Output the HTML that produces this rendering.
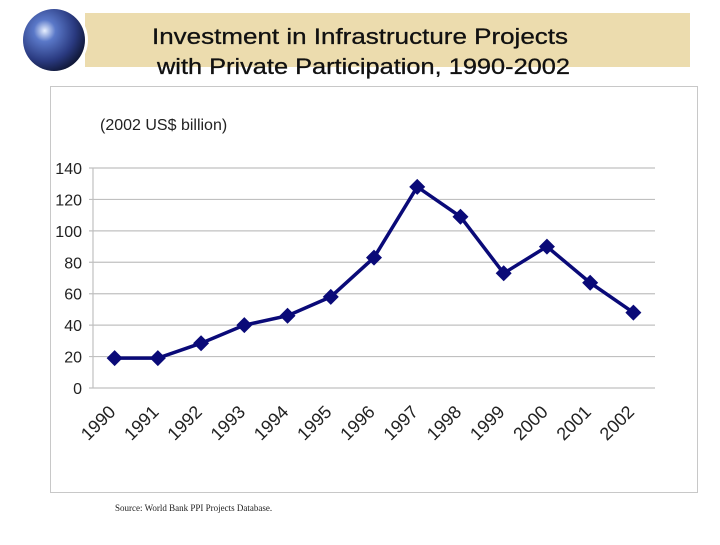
<!DOCTYPE html>
<html><head><meta charset="utf-8"><style>
body{margin:0;width:720px;height:540px;background:#fff;overflow:hidden;font-family:"Liberation Sans",sans-serif;}
</style></head><body>
<svg width="720" height="540" xmlns="http://www.w3.org/2000/svg">
<defs>
<radialGradient id="g" cx="0.35" cy="0.35" r="0.7">
<stop offset="0" stop-color="#e8f0ff"/><stop offset="0.25" stop-color="#5a78c8"/><stop offset="0.7" stop-color="#2a3a80"/><stop offset="1" stop-color="#101838"/>
</radialGradient>
</defs>
<rect x="85" y="13" width="605" height="54" fill="#ecdcae"/>
<circle cx="54" cy="40" r="34" fill="#fff"/>
<circle cx="54" cy="40" r="31" fill="url(#g)"/>
<text x="152" y="44" textLength="416" lengthAdjust="spacingAndGlyphs" font-size="22" fill="#111" stroke="#111" stroke-width="0.3">Investment in Infrastructure Projects</text>
<text x="157" y="74" textLength="413" lengthAdjust="spacingAndGlyphs" font-size="22" fill="#111" stroke="#111" stroke-width="0.3">with Private Participation, 1990-2002</text>
<rect x="50.5" y="86.5" width="647" height="406" fill="#fff" stroke="#c8c8c8"/>
<text x="100" y="130" font-size="16" fill="#222">(2002 US$ billion)</text>
<g id="chart"></g>
<text x="115" y="511" font-family="Liberation Serif,serif" font-size="9" fill="#222">Source: World Bank PPI Projects Database.</text>
</svg>
<script>
const years=["1990","1991","1992","1993","1994","1995","1996","1997","1998","1999","2000","2001","2002"];
const values=[19,19,28.5,40,46,58,83,128,109,73,90,67,48];
const yTicks=[0,20,40,60,80,100,120,140];
const NS="http://www.w3.org/2000/svg";
const g=document.getElementById('chart');
const x0=93,x1=655,y0=388,y1=168,yMax=140;
const xs=i=>x0+(x1-x0)/years.length*(i+0.5);
const ys=v=>y0-(y0-y1)*v/yMax;
function mk(t,a){const e=document.createElementNS(NS,t);for(const k in a)e.setAttribute(k,a[k]);g.appendChild(e);return e;}
yTicks.forEach(v=>{
 const l=mk('line',{x1:x0-4,x2:x1,y1:ys(v),y2:ys(v),stroke:'#c0c0c0','stroke-width':1.2});
 
 
 const t=mk('text',{x:x0-11,y:ys(v)+6,'text-anchor':'end','font-size':16,fill:'#222'});
 t.textContent=v;
 
 
});
const ax=mk('line',{x1:x0,x2:x0,y1:y1,y2:y0,stroke:'#c0c0c0','stroke-width':1.2});


years.forEach((y,i)=>{
 const tx=xs(i)+2,ty=413;
 const t=mk('text',{x:tx,y:ty,'text-anchor':'end','font-size':18,fill:'#222',transform:`rotate(-45 ${tx} ${ty})`});
 t.textContent=y;
 
 
});
const p=mk('polyline',{points:values.map((v,i)=>xs(i)+','+ys(v)).join(' '),fill:'none',stroke:'#0a0a78','stroke-width':3.5});


values.forEach((v,i)=>{
 const cx=xs(i),cy=ys(v),r=8;
 const d=mk('polygon',{points:`${cx},${cy-r} ${cx+r},${cy} ${cx},${cy+r} ${cx-r},${cy}`,fill:'#0a0a78'});
 
 
});
</script>
</body></html>
